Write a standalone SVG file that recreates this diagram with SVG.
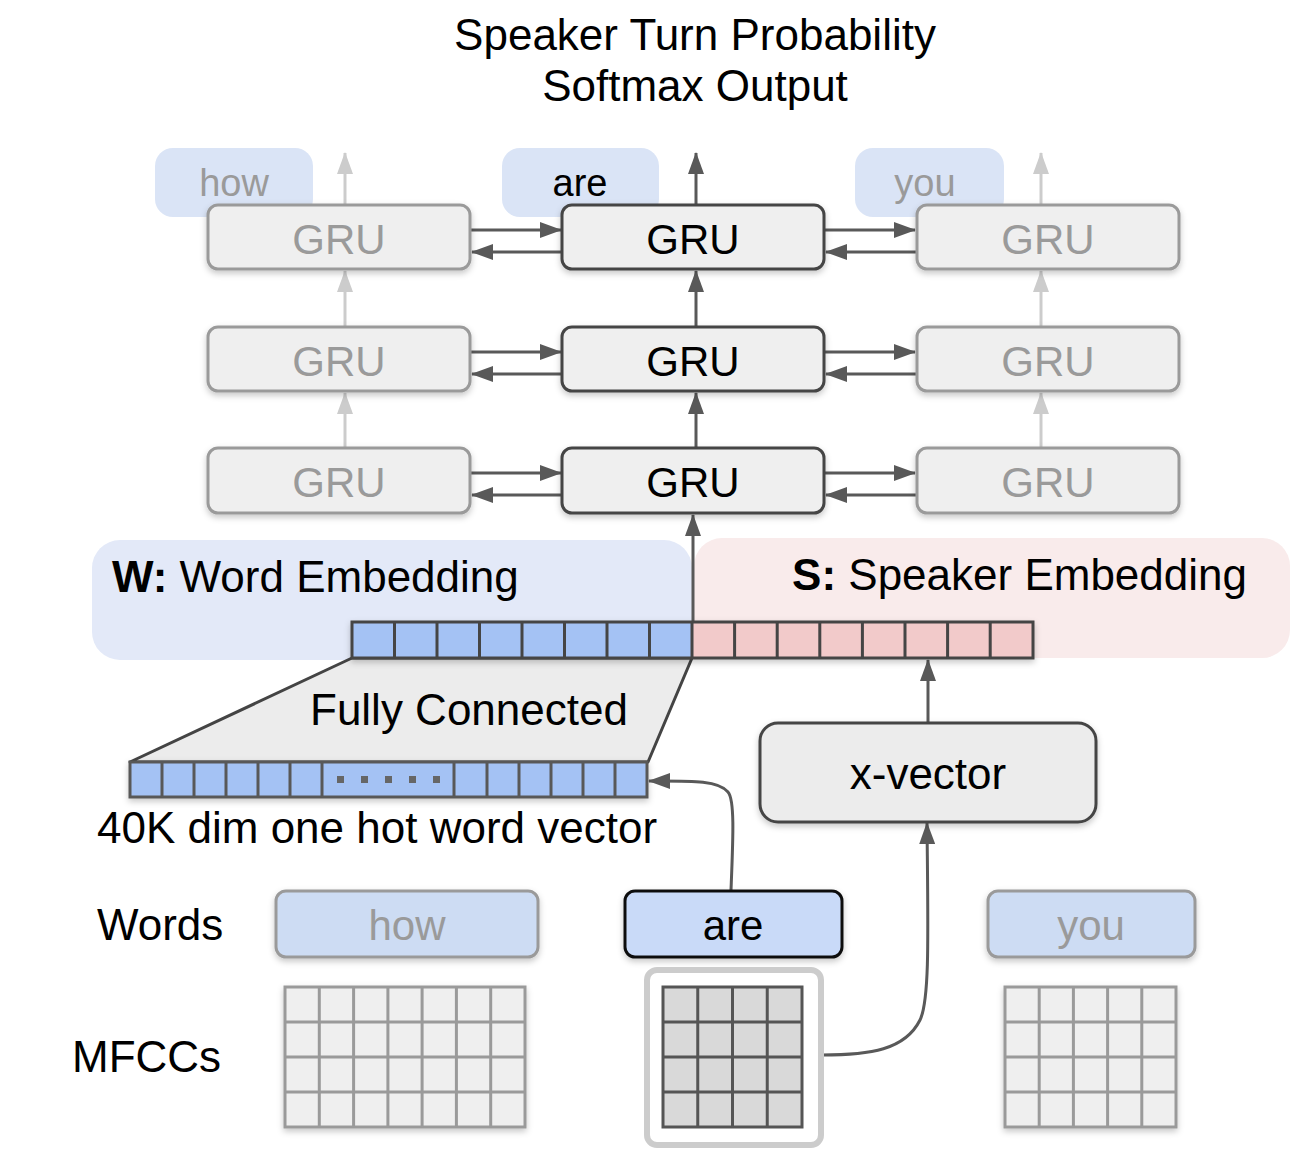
<svg xmlns="http://www.w3.org/2000/svg" width="1304" height="1172" viewBox="0 0 1304 1172">
<style>
text{font-family:"Liberation Sans",Arial,sans-serif;}
.t44{font-size:44px;fill:#000;}
.gru{fill:#efefef;stroke-width:3;}
.gin{stroke:#9a9a9a;}
.gact{stroke:#444;}
.gtxt{font-size:42px;text-anchor:middle;}
.gray{fill:#9a9a9a;}
.blk{fill:#000;}
.blob{fill:#dae4f6;}
.dk{stroke:#595959;stroke-width:3;fill:none;}
.lt{stroke:#cccccc;stroke-width:3;fill:none;}
</style>
<defs>
<marker id="ad" viewBox="0 0 22 16" refX="21" refY="8" markerWidth="22" markerHeight="16" markerUnits="userSpaceOnUse" orient="auto"><path d="M0,0 L22,8 L0,16 z" fill="#595959"/></marker>
<marker id="al" viewBox="0 0 22 16" refX="21" refY="8" markerWidth="22" markerHeight="16" markerUnits="userSpaceOnUse" orient="auto"><path d="M0,0 L22,8 L0,16 z" fill="#cccccc"/></marker>
<filter id="sh" x="-10%" y="-20%" width="120%" height="150%"><feDropShadow dx="0" dy="3" stdDeviation="3" flood-color="#000" flood-opacity="0.22"/></filter>
</defs>

<g id="title">
<text class="t44" x="695" y="50" text-anchor="middle">Speaker Turn Probability</text>
<text class="t44" x="695" y="101" text-anchor="middle">Softmax Output</text>
</g>

<g id="out-words">
<g id="out-how"><rect class="blob" x="155" y="148" width="158" height="69" rx="18"/><text x="234" y="196" font-size="38" text-anchor="middle" class="gray">how</text></g>
<g id="out-are"><rect class="blob" x="502" y="148" width="157" height="69" rx="18"/><text x="580" y="196" font-size="38" text-anchor="middle" class="blk">are</text></g>
<g id="out-you"><rect class="blob" x="855" y="148" width="149" height="69" rx="18"/><text x="925" y="196" font-size="38" text-anchor="middle" class="gray">you</text></g>
</g>

<g id="regions">
<rect id="S-region" x="694" y="538" width="596" height="120" rx="28" fill="#f9ebeb"/>
<rect id="W-region" x="92" y="540" width="600" height="120" rx="28" fill="#e3e9f8"/>
<text x="112" y="592" class="t44"><tspan font-weight="bold">W:</tspan> Word Embedding</text>
<text x="1247" y="590" class="t44" text-anchor="end"><tspan font-weight="bold">S:</tspan> Speaker Embedding</text>
</g>

<g id="connectors">
<line class="lt" x1="345" y1="205" x2="345" y2="153" marker-end="url(#al)"/>
<line class="dk" x1="696" y1="205" x2="696" y2="153" marker-end="url(#ad)"/>
<line class="lt" x1="1041" y1="205" x2="1041" y2="153" marker-end="url(#al)"/>
<line class="lt" x1="345" y1="327" x2="345" y2="271" marker-end="url(#al)"/>
<line class="dk" x1="696" y1="327" x2="696" y2="271" marker-end="url(#ad)"/>
<line class="lt" x1="1041" y1="327" x2="1041" y2="271" marker-end="url(#al)"/>
<line class="lt" x1="345" y1="448" x2="345" y2="393" marker-end="url(#al)"/>
<line class="dk" x1="696" y1="448" x2="696" y2="393" marker-end="url(#ad)"/>
<line class="lt" x1="1041" y1="448" x2="1041" y2="393" marker-end="url(#al)"/>
<line class="dk" x1="471" y1="230" x2="561" y2="230" marker-end="url(#ad)"/>
<line class="dk" x1="562" y1="252" x2="472" y2="252" marker-end="url(#ad)"/>
<line class="dk" x1="825" y1="230" x2="915" y2="230" marker-end="url(#ad)"/>
<line class="dk" x1="916" y1="252" x2="826" y2="252" marker-end="url(#ad)"/>
<line class="dk" x1="471" y1="352" x2="561" y2="352" marker-end="url(#ad)"/>
<line class="dk" x1="562" y1="374" x2="472" y2="374" marker-end="url(#ad)"/>
<line class="dk" x1="825" y1="352" x2="915" y2="352" marker-end="url(#ad)"/>
<line class="dk" x1="916" y1="374" x2="826" y2="374" marker-end="url(#ad)"/>
<line class="dk" x1="471" y1="473" x2="561" y2="473" marker-end="url(#ad)"/>
<line class="dk" x1="562" y1="495" x2="472" y2="495" marker-end="url(#ad)"/>
<line class="dk" x1="825" y1="473" x2="915" y2="473" marker-end="url(#ad)"/>
<line class="dk" x1="916" y1="495" x2="826" y2="495" marker-end="url(#ad)"/>
<line class="dk" x1="693" y1="622" x2="693" y2="515" marker-end="url(#ad)"/>
<line class="dk" x1="928" y1="723" x2="928" y2="660" marker-end="url(#ad)"/>
<path class="dk" d="M731,890 C733,840 735,800 728,792 C718,780 690,781 649,781" marker-end="url(#ad)"/>
<path class="dk" d="M822,1055 C870,1055 905,1050 920,1020 C930,1000 928,930 927,823" marker-end="url(#ad)"/>
</g>

<g id="gru-row1">
<g id="gru-1-1"><rect class="gru gin" x="208" y="205" width="262" height="64" rx="10" filter="url(#sh)"/><text class="gtxt gray" x="339" y="254">GRU</text></g>
<g id="gru-1-2"><rect class="gru gact" x="562" y="205" width="262" height="64" rx="10" filter="url(#sh)"/><text class="gtxt blk" x="693" y="254">GRU</text></g>
<g id="gru-1-3"><rect class="gru gin" x="917" y="205" width="262" height="64" rx="10" filter="url(#sh)"/><text class="gtxt gray" x="1048" y="254">GRU</text></g>
</g>
<g id="gru-row2">
<g id="gru-2-1"><rect class="gru gin" x="208" y="327" width="262" height="64" rx="10" filter="url(#sh)"/><text class="gtxt gray" x="339" y="376">GRU</text></g>
<g id="gru-2-2"><rect class="gru gact" x="562" y="327" width="262" height="64" rx="10" filter="url(#sh)"/><text class="gtxt blk" x="693" y="376">GRU</text></g>
<g id="gru-2-3"><rect class="gru gin" x="917" y="327" width="262" height="64" rx="10" filter="url(#sh)"/><text class="gtxt gray" x="1048" y="376">GRU</text></g>
</g>
<g id="gru-row3">
<g id="gru-3-1"><rect class="gru gin" x="208" y="448" width="262" height="65" rx="10" filter="url(#sh)"/><text class="gtxt gray" x="339" y="497">GRU</text></g>
<g id="gru-3-2"><rect class="gru gact" x="562" y="448" width="262" height="65" rx="10" filter="url(#sh)"/><text class="gtxt blk" x="693" y="497">GRU</text></g>
<g id="gru-3-3"><rect class="gru gin" x="917" y="448" width="262" height="65" rx="10" filter="url(#sh)"/><text class="gtxt gray" x="1048" y="497">GRU</text></g>
</g>

<g id="fully-connected">
<path d="M352,658 L692,658 L648,762 L130,762 Z" fill="#ececec" stroke="#444" stroke-width="3" stroke-linejoin="round"/>
<text class="t44" x="310" y="725">Fully Connected</text>
</g>

<g id="embedding-vector" filter="url(#sh)">
<rect x="352" y="622" width="340" height="36" fill="#a4c2f4"/>
<rect x="692" y="622" width="341" height="36" fill="#f2caca"/>
<g stroke="#444" stroke-width="3" fill="none">
<rect x="352" y="622" width="681" height="36"/>
<path d="M394.5,622V658M437,622V658M479.5,622V658M522,622V658M564.5,622V658M607,622V658M649.5,622V658M692,622V658M734.6,622V658M777.2,622V658M819.8,622V658M862.4,622V658M905,622V658M947.6,622V658M990.2,622V658"/>
</g>
</g>

<g id="one-hot-vector" filter="url(#sh)">
<rect x="130" y="762" width="517" height="35" fill="#a4c2f4" stroke="#595959" stroke-width="3"/>
<path stroke="#595959" stroke-width="3" d="M162,762V797M194,762V797M226,762V797M258,762V797M290,762V797M322,762V797M454,762V797M487,762V797M519,762V797M551,762V797M583,762V797M615,762V797"/>
<g fill="#666"><rect x="337" y="776" width="7" height="7"/><rect x="361" y="776" width="7" height="7"/><rect x="385" y="776" width="7" height="7"/><rect x="409" y="776" width="7" height="7"/><rect x="433" y="776" width="7" height="7"/></g>
</g>
<text id="one-hot-label" class="t44" x="97" y="843">40K dim one hot word vector</text>

<g id="x-vector">
<rect x="760" y="723" width="336" height="99" rx="18" fill="#ececec" stroke="#444" stroke-width="3" filter="url(#sh)"/>
<text class="t44" x="928" y="789" text-anchor="middle">x-vector</text>
</g>

<g id="labels">
<text class="t44" x="97" y="940">Words</text>
<text class="t44" x="72" y="1072">MFCCs</text>
</g>

<g id="word-how"><rect x="276" y="891" width="262" height="66" rx="10" fill="#cddcf3" stroke="#9a9a9a" stroke-width="3" filter="url(#sh)"/><text x="407" y="940" font-size="42" text-anchor="middle" class="gray">how</text></g>
<g id="word-are"><rect x="625" y="891" width="217" height="66" rx="10" fill="#c9daf8" stroke="#111" stroke-width="3" filter="url(#sh)"/><text x="733" y="940" font-size="42" text-anchor="middle" class="blk">are</text></g>
<g id="word-you"><rect x="988" y="891" width="207" height="66" rx="10" fill="#cddcf3" stroke="#9a9a9a" stroke-width="3" filter="url(#sh)"/><text x="1091" y="940" font-size="42" text-anchor="middle" class="gray">you</text></g>

<g id="mfcc-how" filter="url(#sh)">
<rect x="285" y="987" width="240" height="140" fill="#efefef" stroke="#9a9a9a" stroke-width="3"/>
<path stroke="#9a9a9a" stroke-width="3" d="M319.3,987V1127M353.6,987V1127M387.9,987V1127M422.1,987V1127M456.4,987V1127M490.7,987V1127M285,1022H525M285,1057H525M285,1092H525"/>
</g>
<g id="mfcc-are">
<rect x="647" y="970" width="174" height="175" rx="10" fill="#fff" stroke="#cccccc" stroke-width="6"/>
<rect x="663" y="987" width="139" height="140" fill="#d9d9d9" stroke="#555" stroke-width="3"/>
<path stroke="#555" stroke-width="3" d="M697.75,987V1127M732.5,987V1127M767.25,987V1127M663,1022H802M663,1057H802M663,1092H802"/>
</g>
<g id="mfcc-you" filter="url(#sh)">
<rect x="1005" y="987" width="171" height="140" fill="#efefef" stroke="#9a9a9a" stroke-width="3"/>
<path stroke="#9a9a9a" stroke-width="3" d="M1039.2,987V1127M1073.4,987V1127M1107.6,987V1127M1141.8,987V1127M1005,1022H1176M1005,1057H1176M1005,1092H1176"/>
</g>
</svg>
